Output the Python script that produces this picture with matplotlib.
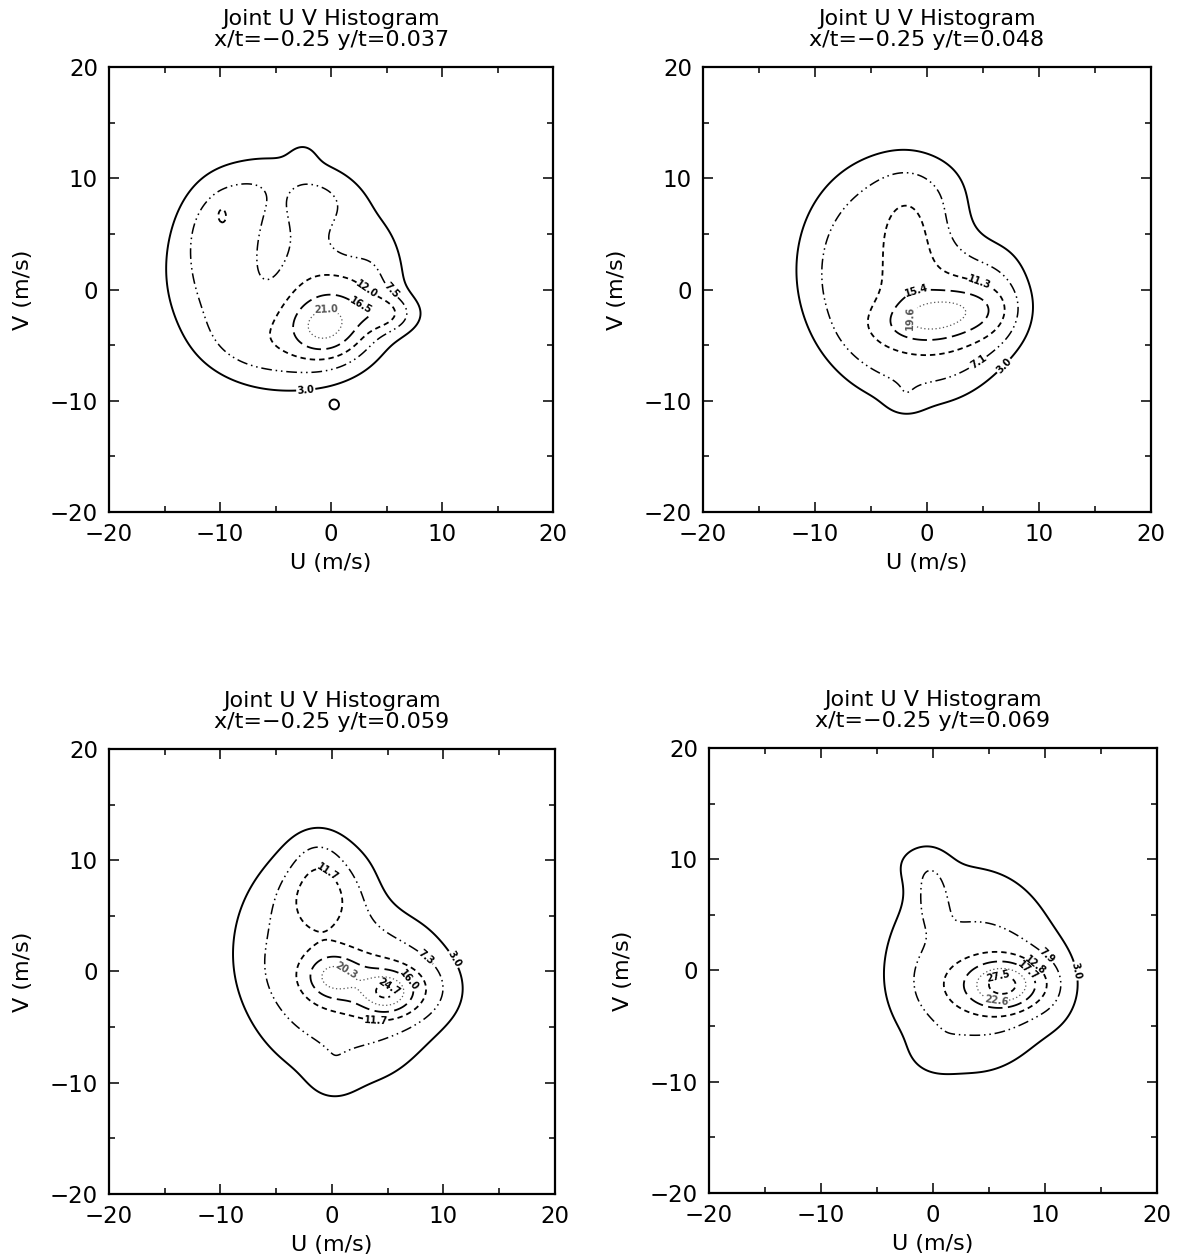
import numpy as np
import matplotlib
matplotlib.use('Agg')
import matplotlib.pyplot as plt

# ---- data: smooth-histogram bumps (u, v in m/s) ----
# each bump: centre u, centre v, width u, width v, height, flatness, rotation (deg)
p1_cu = [-4.3, -6.5, -9.9, -9.9, -5.2, -1.3, 1.6, -0.9, 0.5, 5.3, -2.5, 0.3]
p1_cv = [1.5, -5.0, 6.6, 6.9, 4.6, 7.2, 5.0, -3.4, -2.6, -2.2, 12.2, -10.4]
p1_su = [7.3, 3.5, 2.5, 0.4, 1.2, 2.0, 1.8, 2.0, 3.0, 1.8, 1.0, 0.5]
p1_sv = [7.2, 2.0, 3.1, 0.7, 3.0, 1.6, 2.0, 1.7, 3.0, 1.2, 1.0, 0.5]
p1_amp = [9.0, 2.2, 3.2, 1.8, -4.7, 2.5, -4.0, 7.2, 8.0, 8.0, 2.2, 3.6]
p1_pow = [3, 1, 1, 1, 1, 1, 1, 1, 1, 1, 1, 1]
p1_rot = [0, 0, 0, 0, -8, 0, 0, 0, 0, 0, 0, 0]
p1_levels = [3.0, 7.5, 12.0, 16.5, 21.0]

p2_cu = [-1.5, -1.8, 0.8, 1.5, 6.5, 5.0, -2.0]
p2_cv = [1.0, 4.2, -2.4, -2.2, -2.5, 6.0, -10.0]
p2_su = [7.0, 1.8, 3.2, 4.0, 2.0, 2.5, 1.2]
p2_sv = [8.0, 3.6, 1.4, 3.0, 2.0, 3.0, 1.0]
p2_amp = [9.0, 4.2, 8.2, 5.0, 2.5, -5.0, 2.5]
p2_pow = [3, 1, 1, 1, 1, 1, 1]
p2_rot = [15, 0, 10, 10, 0, 0, 0]
p2_levels = [3.0, 7.1, 11.3, 15.4, 19.6]

p3_cu = [0.5, -1.2, 4.9, 0.0, 3.5, 9.0, 0.0, -1.3, 6.0]
p3_cv = [0.5, 7.0, -1.9, -0.4, -1.4, -1.0, -9.5, 10.8, 7.0]
p3_su = [6.3, 2.2, 1.5, 1.6, 4.0, 2.2, 1.5, 1.8, 2.5]
p3_sv = [7.5, 2.4, 1.2, 1.4, 2.0, 2.2, 1.5, 1.8, 2.5]
p3_amp = [9.0, 6.5, 10.0, 8.5, 7.5, 3.0, 2.5, 3.0, -3.0]
p3_pow = [2, 1, 1, 1, 1, 1, 1, 1, 1]
p3_rot = [20, 0, 0, 0, -10, 0, 0, 0, 0]
p3_levels = [3.0, 7.3, 11.7, 16.0, 20.3, 24.7]

p4_cu = [3.5, -0.2, -1.2, 6.5, 5.0, 11.0, 0.0]
p4_cv = [0.0, 7.0, 9.6, -1.3, -1.3, -1.5, -7.5]
p4_su = [5.5, 1.1, 2.0, 2.0, 3.5, 1.5, 1.5]
p4_sv = [6.5, 2.0, 1.6, 1.4, 2.2, 2.5, 1.3]
p4_amp = [8.0, 5.0, 3.5, 14.0, 9.0, 3.0, 2.5]
p4_pow = [2, 1, 1, 1, 1, 1, 1]
p4_rot = [0, 0, 0, 0, 0, 0, 0]
p4_levels = [3.0, 7.9, 12.8, 17.7, 22.6, 27.5]

y_over_t = ['0.037', '0.048', '0.059', '0.069']

# where the level values are written on each panel
p1_lab = [[(-2.3, -8.8)], [(5.3, -0.2)], [(3.1, -0.2)], [(2.6, -1.6)], [(-0.4, -3.0)]]
p2_lab = [[(6.1, -6.1)], [(3.8, -5.3)], [(4.6, 0.4)], [(-0.9, -0.3)], [(-1.8, -2.5)]]
p3_lab = [[(10.6, 0.9)], [(8.5, 1.4)], [(-0.5, 8.7), (3.9, -4.8)], [(7.3, -0.4)],
          [(1.0, -0.3)], [(4.9, -1.8)]]
p4_lab = [[(12.5, -0.1)], [(9.8, 0.9)], [(9.2, 0.6)], [(8.7, 0.3)], [(5.6, -3.1)],
          [(6.0, -1.2)]]

grid = np.linspace(-20, 20, 401)
U, V = np.meshgrid(grid, grid)


def histogram_field(cu, cv, su, sv, amp, pw, rot):
    Z = np.zeros_like(U)
    for x0, y0, sx, sy, a, p, r in zip(cu, cv, su, sv, amp, pw, rot):
        t = np.deg2rad(r)
        du = U - x0
        dv = V - y0
        aa = du * np.cos(t) + dv * np.sin(t)
        bb = -du * np.sin(t) + dv * np.cos(t)
        q = 0.5 * ((aa / sx) ** 2 + (bb / sy) ** 2)
        Z += a * np.exp(-q ** p)
    return Z


styles = [
    dict(linestyle='solid', linewidth=1.4, color='black'),
    dict(linestyle=(0, (7, 2.5, 1, 2.5, 1, 2.5)), linewidth=1.1, color='black'),
    dict(linestyle=(0, (3, 2.2)), linewidth=1.3, color='black'),
    dict(linestyle=(0, (8, 3)), linewidth=1.3, color='black'),
    dict(linestyle=(0, (1, 2)), linewidth=0.9, color='#555555'),
    dict(linestyle=(0, (3, 2.2)), linewidth=1.3, color='black'),
]

plt.rcParams['font.family'] = ['DejaVu Sans']

fig = plt.figure(figsize=(11.79, 12.58), dpi=100)
boxes = [
    [0.0925, 0.5930, 0.3766, 0.3537],
    [0.5963, 0.5930, 0.3800, 0.3537],
    [0.0925, 0.0509, 0.3780, 0.3537],
    [0.6014, 0.0517, 0.3800, 0.3537],
]
panels = [
    (p1_cu, p1_cv, p1_su, p1_sv, p1_amp, p1_pow, p1_rot, p1_levels, p1_lab),
    (p2_cu, p2_cv, p2_su, p2_sv, p2_amp, p2_pow, p2_rot, p2_levels, p2_lab),
    (p3_cu, p3_cv, p3_su, p3_sv, p3_amp, p3_pow, p3_rot, p3_levels, p3_lab),
    (p4_cu, p4_cv, p4_su, p4_sv, p4_amp, p4_pow, p4_rot, p4_levels, p4_lab),
]

for box, pan, yt in zip(boxes, panels, y_over_t):
    cu, cv, su, sv, amp, pw, rot, levels, labs = pan
    ax = fig.add_axes(box)
    ax.set_xlim(-20, 20)
    ax.set_ylim(-20, 20)
    Z = histogram_field(cu, cv, su, sv, amp, pw, rot)
    for i, lev in enumerate(levels):
        cs = ax.contour(U, V, Z, levels=[lev], colors=styles[i]['color'],
                        linewidths=styles[i]['linewidth'])
        cs.set_linestyle(styles[i]['linestyle'])
        if len(cs.allsegs[0]) > 0:
            try:
                ax.clabel(cs, manual=labs[i], fmt='%.1f', fontsize=7,
                          inline=True, inline_spacing=2)
                for t in cs.labelTexts:
                    t.set_fontweight('bold')
            except Exception:
                pass
    ax.set_xticks([-20, -10, 0, 10, 20])
    ax.set_yticks([-20, -10, 0, 10, 20])
    ax.set_xticks(np.arange(-15, 20, 10), minor=True)
    ax.set_yticks(np.arange(-15, 20, 10), minor=True)
    ax.tick_params(which='both', direction='in', top=True, right=True,
                   labelsize=16.5, pad=8, width=1.1)
    ax.tick_params(which='major', length=7)
    ax.tick_params(which='minor', length=4)
    for s in ax.spines.values():
        s.set_linewidth(1.6)
    ax.set_xlabel('U (m/s)', fontsize=16, labelpad=5)
    ax.set_ylabel('V (m/s)', fontsize=16, labelpad=12)
    ax.set_title('Joint U V Histogram\nx/t=\u22120.25 y/t=' + yt, fontsize=16,
                 pad=15, linespacing=1.1)

fig.savefig('out.png', dpi=100)
